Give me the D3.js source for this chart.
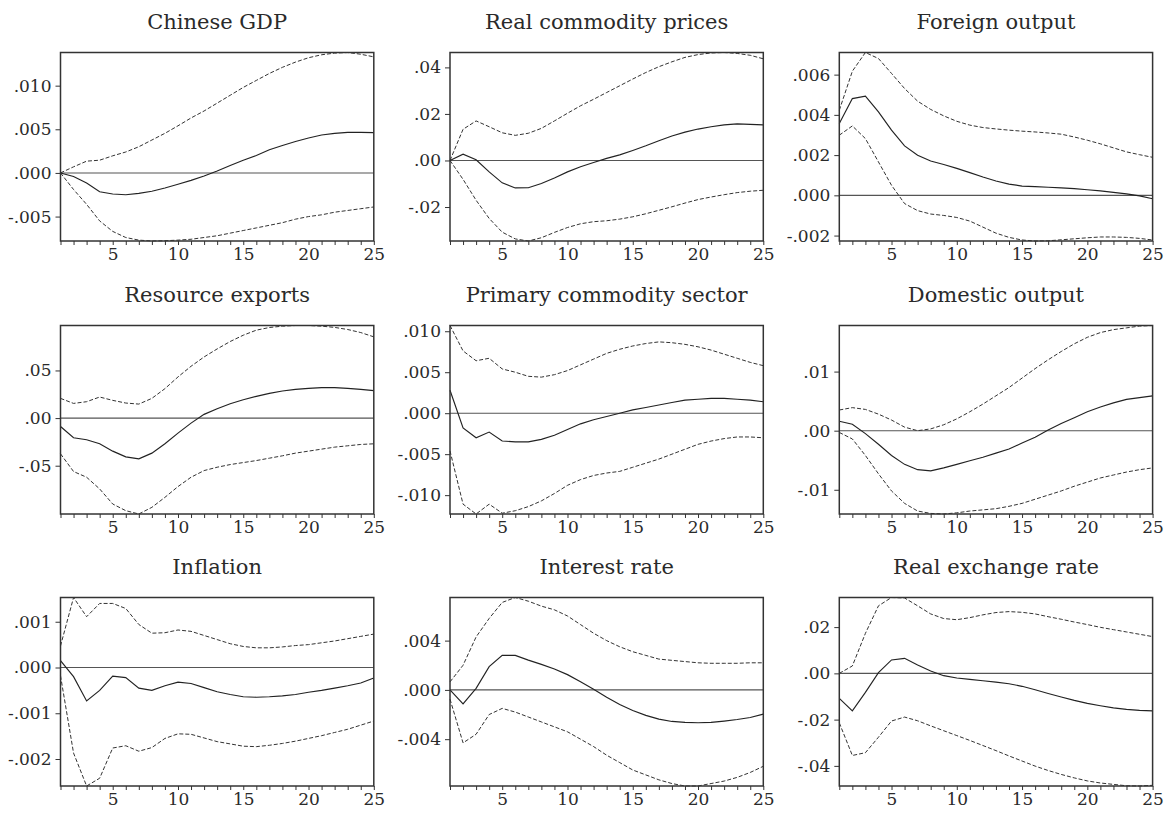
<!DOCTYPE html>
<html>
<head>
<meta charset="utf-8">
<script src="https://cdn.jsdelivr.net/npm/d3@7"></script>
<style>
  body { margin: 0; background: #fff; }
  .axis path, .axis line { stroke: #333; }
</style>
</head>
<body>
<div id="chart"></div>
<script>
// horizons 1..25
var steps = d3.range(1, 26);

// Chinese GDP
var gdpMean = [0, -0.0004, -0.00115, -0.00215, -0.00242, -0.0025, -0.00235, -0.0021, -0.00173, -0.0013, -0.00085, -0.00035, 0.00023, 0.00085, 0.00146, 0.002, 0.00265, 0.00315, 0.0036, 0.004, 0.00435, 0.00454, 0.00465, 0.00465, 0.00462];
var gdpHi = [0, 0.0007, 0.00135, 0.00146, 0.00196, 0.0024, 0.003, 0.00377, 0.00454, 0.0054, 0.0063, 0.0071, 0.008, 0.0089, 0.0098, 0.0106, 0.0114, 0.0121, 0.0127, 0.0132, 0.01354, 0.01373, 0.0138, 0.0136, 0.0133];
var gdpLo = [0, -0.0019, -0.0036, -0.0055, -0.0067, -0.0074, -0.0077, -0.0078, -0.00777, -0.0077, -0.0076, -0.0074, -0.0072, -0.0069, -0.0066, -0.0063, -0.006, -0.0057, -0.0053, -0.005, -0.0048, -0.0045, -0.0043, -0.0041, -0.0039];

// Real commodity prices
var comMean = [0, 0.0027, 0.0003, -0.0049, -0.0096, -0.0118, -0.0117, -0.0099, -0.0075, -0.0049, -0.0027, -0.0009, 0.0009, 0.0024, 0.0043, 0.0063, 0.0085, 0.0105, 0.0122, 0.0135, 0.0145, 0.0153, 0.0157, 0.0155, 0.0153];
var comHi = [0, 0.0134, 0.017, 0.0145, 0.0119, 0.0108, 0.0117, 0.0138, 0.017, 0.0203, 0.0235, 0.0263, 0.0292, 0.0321, 0.035, 0.0378, 0.0403, 0.0424, 0.0443, 0.0455, 0.0462, 0.0464, 0.046, 0.0452, 0.0437];
var comLo = [0, -0.0081, -0.0171, -0.0249, -0.0308, -0.0337, -0.0346, -0.0332, -0.0309, -0.0288, -0.0272, -0.0263, -0.0259, -0.0252, -0.0242, -0.0229, -0.0214, -0.0199, -0.0183, -0.0168, -0.0157, -0.0147, -0.0138, -0.0132, -0.0128];

// Foreign output
var forMean = [0.00357, 0.00481, 0.00493, 0.00415, 0.00324, 0.00246, 0.00199, 0.00171, 0.00153, 0.00134, 0.00113, 0.00091, 0.00071, 0.00056, 0.00046, 0.00043, 0.0004, 0.00037, 0.00033, 0.00028, 0.00022, 0.00015, 0.00007, -0.00003, -0.00017];
var forHi = [0.00423, 0.00617, 0.0071, 0.0068, 0.00606, 0.00531, 0.00468, 0.00427, 0.00395, 0.00368, 0.00349, 0.00337, 0.0033, 0.00324, 0.00319, 0.00315, 0.0031, 0.00304, 0.0029, 0.00274, 0.00256, 0.00236, 0.00216, 0.00202, 0.00189];
var forLo = [0.00299, 0.00345, 0.00282, 0.00166, 0.0005, -0.00041, -0.00076, -0.00093, -0.001, -0.0011, -0.00128, -0.00158, -0.00188, -0.00209, -0.00222, -0.00227, -0.00226, -0.00221, -0.00216, -0.00211, -0.00207, -0.00207, -0.00209, -0.00214, -0.00222];

// Resource exports
var resMean = [-0.0088, -0.0207, -0.0228, -0.027, -0.0347, -0.0407, -0.0428, -0.0368, -0.027, -0.0158, -0.0053, 0.0039, 0.0098, 0.0151, 0.0193, 0.0228, 0.026, 0.0284, 0.0302, 0.0312, 0.0319, 0.0319, 0.0312, 0.0302, 0.0288];
var resHi = [0.0207, 0.0154, 0.0172, 0.0221, 0.0186, 0.0158, 0.0147, 0.0207, 0.0309, 0.0432, 0.0544, 0.0642, 0.0726, 0.0804, 0.087, 0.0923, 0.0951, 0.0965, 0.0972, 0.0972, 0.0965, 0.0952, 0.093, 0.0898, 0.0853];
var resLo = [-0.0375, -0.0561, -0.0621, -0.0744, -0.0902, -0.0972, -0.1007, -0.0937, -0.0832, -0.0719, -0.0621, -0.0551, -0.0516, -0.0488, -0.0467, -0.0446, -0.0421, -0.0396, -0.0368, -0.0347, -0.0326, -0.0305, -0.0291, -0.0277, -0.027];

// Primary commodity sector
var priMean = [0.0028, -0.0018, -0.003, -0.0023, -0.0034, -0.0035, -0.0035, -0.0032, -0.0027, -0.002, -0.0013, -0.0008, -0.0004, 0, 0.0004, 0.0007, 0.001, 0.0013, 0.0016, 0.0017, 0.0018, 0.0018, 0.0017, 0.0016, 0.0014];
var priHi = [0.0107, 0.0076, 0.0064, 0.0067, 0.0054, 0.005, 0.0045, 0.0044, 0.0047, 0.0052, 0.0059, 0.0066, 0.0073, 0.0078, 0.0082, 0.0085, 0.0087, 0.0086, 0.0084, 0.0081, 0.0077, 0.0072, 0.0067, 0.0062, 0.0058];
var priLo = [-0.0046, -0.0111, -0.0123, -0.0111, -0.0122, -0.0119, -0.0114, -0.0107, -0.0098, -0.0088, -0.0081, -0.0076, -0.0073, -0.0071, -0.0066, -0.0061, -0.0056, -0.005, -0.0044, -0.0038, -0.0034, -0.0031, -0.0029, -0.0029, -0.003];

// Domestic output
var domMean = [0.0016, 0.0011, -0.0005, -0.0023, -0.0042, -0.0057, -0.0066, -0.0068, -0.0063, -0.0057, -0.0051, -0.0045, -0.0038, -0.0031, -0.0021, -0.0011, 0.0001, 0.0012, 0.0022, 0.0032, 0.004, 0.0047, 0.0053, 0.0056, 0.0059];
var domHi = [0.0035, 0.0039, 0.0036, 0.0028, 0.0018, 0.0006, 0.0, 0.0003, 0.001, 0.002, 0.0032, 0.0045, 0.0059, 0.0073, 0.0089, 0.0105, 0.012, 0.0134, 0.0147, 0.0158, 0.0166, 0.0171, 0.0174, 0.0177, 0.0178];
var domLo = [-0.0003, -0.0014, -0.0042, -0.0073, -0.0102, -0.0123, -0.0136, -0.014, -0.0141, -0.0139, -0.0136, -0.0134, -0.0132, -0.0128, -0.0123, -0.0116, -0.0109, -0.0102, -0.0094, -0.0087, -0.008, -0.0075, -0.007, -0.0066, -0.0063];

// Inflation
var infMean = [0.00015, -0.0002, -0.00073, -0.0005, -0.00019, -0.00022, -0.00045, -0.0005, -0.0004, -0.00032, -0.00035, -0.00044, -0.00053, -0.00059, -0.00064, -0.00065, -0.00064, -0.00062, -0.00059, -0.00054, -0.0005, -0.00045, -0.0004, -0.00034, -0.00023];
var infHi = [0.00047, 0.00153, 0.00111, 0.0014, 0.0014, 0.00129, 0.00094, 0.00075, 0.00076, 0.00082, 0.00079, 0.0007, 0.00061, 0.00052, 0.00046, 0.00043, 0.00043, 0.00045, 0.00048, 0.0005, 0.00054, 0.00058, 0.00063, 0.00068, 0.00073];
var infLo = [-0.00018, -0.00187, -0.00259, -0.00242, -0.00176, -0.00171, -0.00183, -0.00175, -0.00155, -0.00145, -0.00146, -0.00154, -0.00162, -0.00167, -0.00172, -0.00173, -0.0017, -0.00166, -0.00161, -0.00155, -0.00149, -0.00142, -0.00135, -0.00126, -0.00117];

// Interest rate
var intMean = [0, -0.00113, 0.00013, 0.00189, 0.0028, 0.0028, 0.00242, 0.00207, 0.0017, 0.00124, 0.00067, 0.00005, -0.00059, -0.00119, -0.00167, -0.00207, -0.00237, -0.00256, -0.00264, -0.00267, -0.00264, -0.00253, -0.0024, -0.00224, -0.00197];
var intHi = [0.00065, 0.002, 0.0043, 0.0058, 0.0071, 0.0075, 0.0072, 0.0068, 0.0065, 0.006, 0.0053, 0.0046, 0.004, 0.0035, 0.0031, 0.0028, 0.0025, 0.0024, 0.0023, 0.0022, 0.00216, 0.00216, 0.00216, 0.0022, 0.0022];
var intLo = [-0.00075, -0.0043, -0.0036, -0.002, -0.0015, -0.0018, -0.0022, -0.0026, -0.003, -0.0034, -0.004, -0.0046, -0.0053, -0.0059, -0.0065, -0.0069, -0.0073, -0.0076, -0.0078, -0.0078, -0.0076, -0.0074, -0.0071, -0.0067, -0.0062];

// Real exchange rate
var rerMean = [-0.0108, -0.0162, -0.0082, 0.0003, 0.0058, 0.0065, 0.0036, 0.001, -0.001, -0.002, -0.0026, -0.0032, -0.0038, -0.0045, -0.0056, -0.0071, -0.0087, -0.0102, -0.0117, -0.013, -0.014, -0.0149, -0.0156, -0.016, -0.0162];
var rerHi = [0, 0.0032, 0.0173, 0.0292, 0.0328, 0.0326, 0.0292, 0.0257, 0.0237, 0.0232, 0.0241, 0.0253, 0.0263, 0.0267, 0.0264, 0.0257, 0.0245, 0.0234, 0.0222, 0.0211, 0.0199, 0.0189, 0.0179, 0.0169, 0.0159];
var rerLo = [-0.0214, -0.0355, -0.0343, -0.0276, -0.0206, -0.0189, -0.0205, -0.0227, -0.0248, -0.0269, -0.029, -0.0312, -0.0334, -0.0357, -0.0379, -0.0401, -0.042, -0.0437, -0.0452, -0.0465, -0.0474, -0.048, -0.0486, -0.0487, -0.0484];

var titles = ["Chinese GDP", "Real commodity prices", "Foreign output",
              "Resource exports", "Primary commodity sector", "Domestic output",
              "Inflation", "Interest rate", "Real exchange rate"];

// y tick values and decimals per panel
var yTicks = [
    [-0.005, 0, 0.005, 0.010],
    [-0.02, 0, 0.02, 0.04],
    [-0.002, 0, 0.002, 0.004, 0.006],
    [-0.05, 0, 0.05],
    [-0.010, -0.005, 0, 0.005, 0.010],
    [-0.01, 0, 0.01],
    [-0.002, -0.001, 0, 0.001],
    [-0.004, 0, 0.004],
    [-0.04, -0.02, 0, 0.02]
];
var yDecimals = [3, 2, 3, 2, 3, 2, 3, 3, 2];
var xLabels = [5, 10, 15, 20, 25];

var series = [
    [gdpMean, gdpHi, gdpLo], [comMean, comHi, comLo], [forMean, forHi, forLo],
    [resMean, resHi, resLo], [priMean, priHi, priLo], [domMean, domHi, domLo],
    [infMean, infHi, infLo], [intMean, intHi, intLo], [rerMean, rerHi, rerLo]
];

var serif = "'DejaVu Serif', 'Liberation Serif', 'Times New Roman', serif";
var W = 1173, H = 816;
var colLeft = [60.5, 450, 839.3];
var rowTop = [52.5, 325.5, 597.5];
var pw = 313.3, ph = 188.5;

var svg = d3.select("#chart").append("svg")
    .attr("width", W)
    .attr("height", H);

function fmt(dec){
    var f = d3.format("." + dec + "f");
    return function(v){
        var s = f(v);
        if (Math.abs(v) < 1e-12) s = f(0);
        return s.replace("0.", ".").replace("−", "-");
    };
}

series.forEach(function(s, i){
    var col = i % 3, row = Math.floor(i / 3);
    var g = svg.append("g")
        .attr("transform", "translate(" + colLeft[col] + "," + rowTop[row] + ")");

    var all = s[0].concat(s[1], s[2]);
    var x = d3.scaleLinear().domain([1, 25]).range([0, pw]);
    var y = d3.scaleLinear().domain(d3.extent(all)).range([ph, 0]);

    // zero line
    g.append("line")
        .attr("x1", 0).attr("x2", pw)
        .attr("y1", y(0)).attr("y2", y(0))
        .attr("stroke", "#555")
        .attr("stroke-width", 1.1);

    var line = d3.line()
        .x(function(d, k){ return x(steps[k]); })
        .y(function(d){ return y(d); });

    [s[1], s[2]].forEach(function(band){
        g.append("path")
            .attr("d", line(band))
            .attr("fill", "none")
            .attr("stroke", "#333")
            .attr("stroke-width", 1)
            .attr("stroke-dasharray", "4,2");
    });

    g.append("path")
        .attr("d", line(s[0]))
        .attr("fill", "none")
        .attr("stroke", "#222")
        .attr("stroke-width", 1.15);

    // frame
    g.append("rect")
        .attr("width", pw).attr("height", ph)
        .attr("fill", "none")
        .attr("stroke", "#333")
        .attr("stroke-width", 1.5);

    var ya = g.append("g")
        .attr("class", "axis")
        .call(d3.axisLeft(y).tickValues(yTicks[i]).tickFormat(fmt(yDecimals[i]))
            .tickSize(5).tickPadding(4));
    ya.select(".domain").remove();

    var xa = g.append("g")
        .attr("class", "axis")
        .attr("transform", "translate(0," + ph + ")")
        .call(d3.axisBottom(x).tickValues(steps)
            .tickFormat(function(d){ return xLabels.indexOf(d) >= 0 ? d : ""; })
            .tickSize(4).tickPadding(3));
    xa.select(".domain").remove();

    g.selectAll(".axis text")
        .attr("font-family", serif)
        .attr("font-size", 17)
        .attr("fill", "#2a2a2a");

    g.append("text")
        .attr("x", pw / 2)
        .attr("y", -24)
        .attr("text-anchor", "middle")
        .attr("font-family", serif)
        .attr("font-size", 21)
        .attr("fill", "#2a2a2a")
        .text(titles[i]);
});
</script>
</body>
</html>
